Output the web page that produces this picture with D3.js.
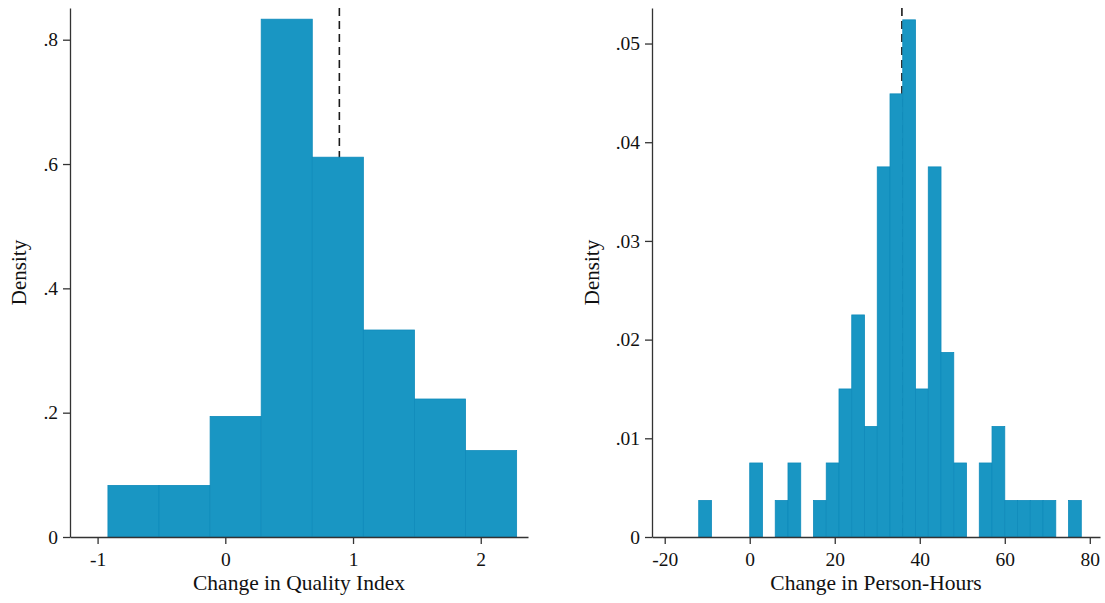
<!DOCTYPE html>
<html>
<head>
<meta charset="utf-8">
<script src="https://cdn.jsdelivr.net/npm/d3@7"></script>
<style>
  html, body { margin: 0; padding: 0; background: #fff; }
  svg { display: block; }
  text { font-family: "Palatino Linotype", "Book Antiqua", Palatino, "Liberation Serif", serif; fill: #111; }
</style>
</head>
<body>
<div id="chart"></div>
<script>
// left panel: Change in Quality Index
const qualityEdges = [-0.919, -0.519, -0.119, 0.281, 0.681, 1.081, 1.481, 1.881, 2.281];
const qualityDensity = [0.083, 0.083, 0.194, 0.833, 0.611, 0.333, 0.222, 0.139];
const qualityMean = 0.893;
const qualityXTicks = [-1, 0, 1, 2];
const qualityYTicks = [0, 0.2, 0.4, 0.6, 0.8];
const qualityYLabels = ["0", ".2", ".4", ".6", ".8"];

// right panel: Change in Person-Hours
const hoursEdges = [-12, -9, -6, -3, 0, 3, 6, 9, 12, 15, 18, 21, 24, 27, 30, 33, 36, 39,
                    42, 45, 48, 51, 54, 57, 60, 63, 66, 69, 72, 75, 78];
const hoursDensity = [0.0037, 0, 0, 0, 0.0075, 0, 0.0037, 0.0075, 0, 0.0037, 0.0075, 0.0150,
                      0.0225, 0.0112, 0.0375, 0.0449, 0.0524, 0.0150, 0.0375, 0.0187, 0.0075, 0,
                      0.0075, 0.0112, 0.0037, 0.0037, 0.0037, 0.0037, 0, 0.0037];
const hoursMean = 35.8;
const hoursXTicks = [-20, 0, 20, 40, 60, 80];
const hoursYTicks = [0, 0.01, 0.02, 0.03, 0.04, 0.05];
const hoursYLabels = ["0", ".01", ".02", ".03", ".04", ".05"];

const width = 1105, height = 603;
const barFill = "#1996c3";
const barEdge = "#0f8bbb";

const svg = d3.select("#chart").append("svg")
    .attr("width", width)
    .attr("height", height);

function drawPanel(opts) {
    const x = d3.scaleLinear().domain(opts.xDomain).range([opts.left, opts.right]);
    const y = d3.scaleLinear().domain([0, opts.yTop]).range([537, 8]);
    const g = svg.append("g");

    // mean line goes under the bars
    g.append("line")
        .attr("x1", x(opts.mean)).attr("x2", x(opts.mean))
        .attr("y1", y(opts.yTop)).attr("y2", y(0))
        .attr("stroke", "#1a1a1a")
        .attr("stroke-width", 1.6)
        .attr("stroke-dasharray", "8,5");

    const bins = opts.density.map((d, i) => ({ x0: opts.edges[i], x1: opts.edges[i + 1], d }))
        .filter(b => b.d > 0);

    g.selectAll("rect.bar")
        .data(bins)
        .enter()
        .append("rect")
        .attr("class", "bar")
        .attr("x", b => x(b.x0))
        .attr("y", b => y(b.d))
        .attr("width", b => x(b.x1) - x(b.x0))
        .attr("height", b => y(0) - y(b.d))
        .attr("fill", barFill)
        .attr("stroke", barEdge)
        .attr("stroke-width", 0.8);

    // plain hyphen for negatives, like the original
    const xAxis = g.append("g")
        .attr("transform", `translate(0,${y(0)})`)
        .call(d3.axisBottom(x).tickValues(opts.xTicks).tickFormat(d => String(d))
            .tickSize(7).tickSizeOuter(0).tickPadding(8));
    const yAxis = g.append("g")
        .attr("transform", `translate(${x.range()[0]},0)`)
        .call(d3.axisLeft(y).tickValues(opts.yTicks).tickFormat((d, i) => opts.yLabels[i])
            .tickSize(7).tickSizeOuter(0).tickPadding(5));

    [xAxis, yAxis].forEach(a => {
        a.select(".domain").attr("stroke", "#333").attr("stroke-width", 1.3);
        a.selectAll(".tick line").attr("stroke", "#333").attr("stroke-width", 1.3);
        a.selectAll(".tick text").style("font-size", "19.5px").attr("fill", "#111");
    });

    g.append("text")
        .attr("x", (opts.left + opts.right) / 2)
        .attr("y", 590)
        .attr("text-anchor", "middle")
        .style("font-size", "21.5px")
        .text(opts.xTitle);

    g.append("text")
        .attr("transform", `translate(${opts.yTitleX},${(y(0) + y(opts.yTop)) / 2}) rotate(-90)`)
        .attr("text-anchor", "middle")
        .style("font-size", "21px")
        .text("Density");
}

drawPanel({
    left: 70, right: 528, xDomain: [-1.216, 2.37], yTop: 0.851,
    edges: qualityEdges, density: qualityDensity, mean: qualityMean,
    xTicks: qualityXTicks, yTicks: qualityYTicks, yLabels: qualityYLabels,
    xTitle: "Change in Quality Index", yTitleX: 26
});

drawPanel({
    left: 652, right: 1100, xDomain: [-22.99, 82.4], yTop: 0.0536,
    edges: hoursEdges, density: hoursDensity, mean: hoursMean,
    xTicks: hoursXTicks, yTicks: hoursYTicks, yLabels: hoursYLabels,
    xTitle: "Change in Person-Hours", yTitleX: 599
});
</script>
</body>
</html>
